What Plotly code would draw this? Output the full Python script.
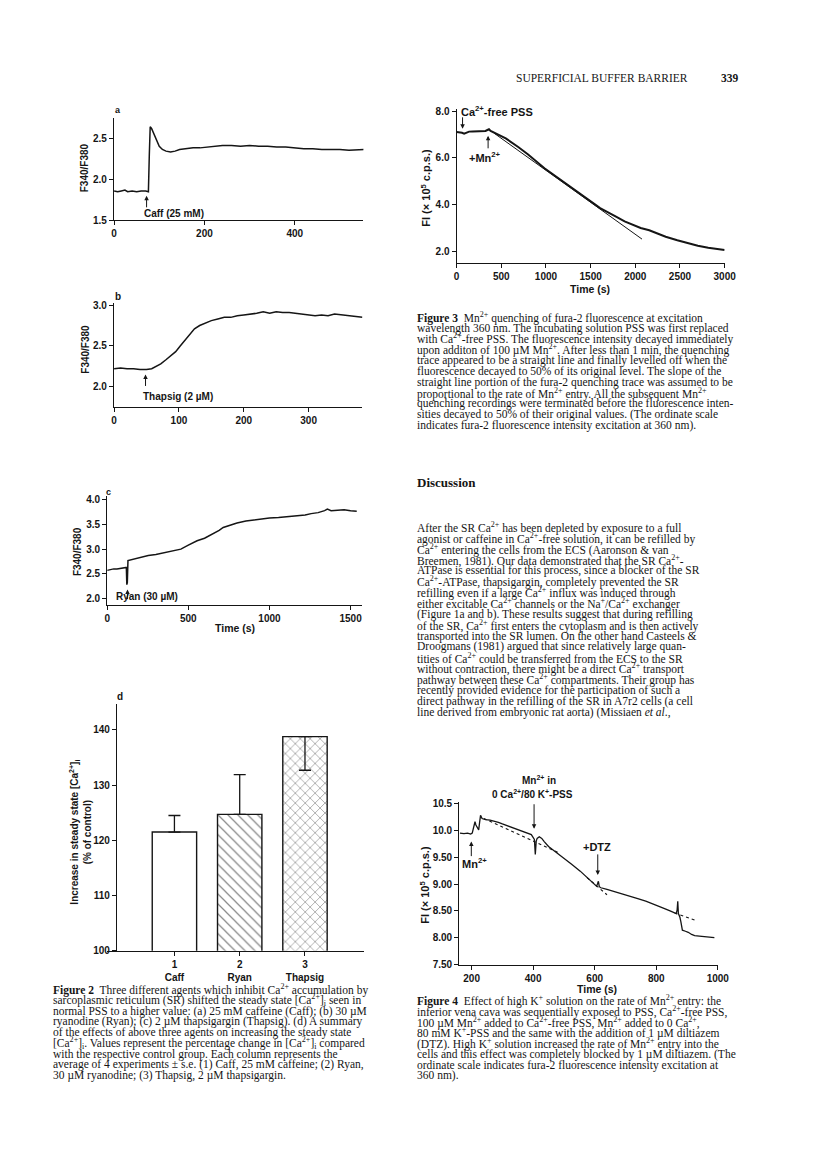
import plotly.graph_objects as go

PAGE_W, PAGE_H = 816, 1174
INK = "#151515"
SANS = "Liberation Sans"
SERIF = "Liberation Serif"

# ---------- Figure 2a: caffeine ----------
caff_time = [0, 8, 16, 24, 30, 40, 50, 60, 70, 76, 78, 80, 83, 88, 94, 100, 107, 115, 125,
             135, 145, 160, 175, 190, 205, 220, 240, 260, 280, 300, 320, 340, 360, 380,
             400, 420, 440, 460, 480, 500, 520, 540, 555]
caff_ratio = [1.86, 1.85, 1.86, 1.87, 1.85, 1.86, 1.85, 1.86, 1.86, 1.85, 2.30, 2.65, 2.63,
              2.56, 2.48, 2.41, 2.37, 2.35, 2.34, 2.35, 2.37, 2.38, 2.39, 2.39, 2.40, 2.41,
              2.42, 2.42, 2.41, 2.42, 2.41, 2.41, 2.40, 2.40, 2.39, 2.38, 2.38, 2.37, 2.37,
              2.37, 2.36, 2.37, 2.37]

# ---------- Figure 2b: thapsigargin ----------
thap_time = [0, 10, 20, 30, 40, 50, 58, 65, 72, 80, 88, 95, 102, 109, 116, 124, 132, 140,
             150, 160, 170, 180, 190, 200, 210, 220, 230, 240, 250, 260, 270, 280, 290,
             300, 310, 320, 330, 340, 350, 360, 370, 383]
thap_ratio = [2.22, 2.23, 2.22, 2.22, 2.21, 2.21, 2.22, 2.25, 2.28, 2.33, 2.38, 2.43, 2.50,
              2.57, 2.64, 2.71, 2.75, 2.78, 2.81, 2.83, 2.85, 2.85, 2.87, 2.88, 2.89, 2.90,
              2.92, 2.90, 2.92, 2.91, 2.91, 2.90, 2.89, 2.88, 2.87, 2.88, 2.87, 2.89, 2.88,
              2.87, 2.86, 2.85]

# ---------- Figure 2c: ryanodine ----------
ryan_time = [0, 20, 40, 60, 80, 100, 118, 121, 124, 128, 150, 180, 210, 253, 300, 350, 400,
             454, 500, 554, 600, 655, 690, 715, 760, 800, 855, 900, 950, 1000, 1056, 1100,
             1150, 1177, 1220, 1257, 1300, 1340, 1357, 1380, 1420, 1460, 1500, 1538]
ryan_ratio = [2.57, 2.59, 2.60, 2.60, 2.61, 2.62, 2.63, 2.28, 2.32, 2.77, 2.79, 2.81, 2.83,
              2.87, 2.89, 2.93, 2.96, 3.00, 3.08, 3.17, 3.22, 3.31, 3.38, 3.44, 3.49, 3.53,
              3.57, 3.59, 3.61, 3.63, 3.64, 3.65, 3.66, 3.67, 3.69, 3.72, 3.74, 3.78, 3.81,
              3.78, 3.79, 3.80, 3.78, 3.77]

# ---------- Figure 2d: summary bars ----------
agent_pos = [1, 2, 3]
agent_labels = ["Caff", "Ryan", "Thapsig"]
agent_increase = [121.5, 124.7, 138.8]
agent_se_up = [3.0, 7.2, 0.0]
agent_se_down = [0.0, 0.0, 6.1]

# ---------- Figure 3: Mn2+ quenching ----------
quench_time = [0, 30, 60, 84, 110, 139, 180, 230, 280, 323, 350, 362, 380, 420, 469, 550,
               689, 800, 983, 1100, 1240, 1350, 1459, 1540, 1606, 1700, 1789, 1880, 1973,
               2060, 2156, 2250, 2340, 2470, 2596, 2700, 2816, 2900, 3000]
quench_fi = [7.10, 7.10, 7.07, 7.03, 7.09, 7.12, 7.13, 7.14, 7.15, 7.15, 7.20, 7.22, 7.15,
             7.08, 7.00, 6.83, 6.46, 6.14, 5.55, 5.22, 4.83, 4.53, 4.23, 4.02, 3.84, 3.63,
             3.46, 3.27, 3.11, 2.99, 2.89, 2.74, 2.61, 2.46, 2.33, 2.23, 2.14, 2.08, 2.04]
slope_time = [420, 2075]
slope_fi = [7.05, 2.51]

# ---------- Figure 4: high K+ ----------
k_time = [162, 175, 187, 197, 202, 207, 211, 214, 218, 223, 226, 229, 234, 245, 260, 275,
          287, 300, 320, 340, 360, 380, 394, 404, 407, 410, 413, 420, 428, 436, 450, 468,
          485, 500, 525, 553, 580, 600, 606, 609, 612, 615, 620, 640, 659, 690, 713, 740,
          766, 795, 819, 845, 865, 868, 870, 872, 877, 880, 885, 895, 904, 915, 925, 940,
          957, 970, 989]
k_fi = [9.95, 9.94, 9.95, 9.93, 9.95, 10.05, 10.16, 10.10, 10.06, 10.01, 10.15, 10.28,
        10.22, 10.20, 10.19, 10.17, 10.15, 10.12, 10.08, 10.04, 10.00, 9.95, 9.92, 9.83,
        9.55, 9.80, 9.85, 9.88, 9.85, 9.79, 9.70, 9.62, 9.55, 9.48, 9.37, 9.24, 9.10, 8.99,
        8.96, 9.00, 9.05, 8.95, 8.93, 8.90, 8.87, 8.82, 8.78, 8.73, 8.68, 8.62, 8.56, 8.50,
        8.45, 8.52, 8.68, 8.45, 8.38, 8.30, 8.14, 8.12, 8.10, 8.06, 8.04, 8.03, 8.02, 8.01,
        8.00]
k_fit_time = [[240, 485], [575, 640], [860, 925]]
k_fit_fi = [[10.22, 9.58], [9.12, 8.80], [8.46, 8.33]]

# ---------- page text ----------
header = "SUPERFICIAL BUFFER BARRIER"
page_no = "339"

fig2_caption = [
    "<b>Figure 2</b>  Three different agents which inhibit Ca<sup>2+</sup> accumulation by",
    "sarcoplasmic reticulum (SR) shifted the steady state [Ca<sup>2+</sup>]<sub>i</sub> seen in",
    "normal PSS to a higher value: (a) 25 mM caffeine (Caff); (b) 30 µM",
    "ryanodine (Ryan); (c) 2 µM thapsigargin (Thapsig). (d) A summary",
    "of the effects of above three agents on increasing the steady state",
    "[Ca<sup>2+</sup>]<sub>i</sub>. Values represent the percentage change in [Ca<sup>2+</sup>]<sub>i</sub> compared",
    "with the respective control group. Each column represents the",
    "average of 4 experiments ± s.e. (1) Caff, 25 mM caffeine; (2) Ryan,",
    "30 µM ryanodine; (3) Thapsig, 2 µM thapsigargin.",
]
fig3_caption = [
    "<b>Figure 3</b>  Mn<sup>2+</sup> quenching of fura-2 fluorescence at excitation",
    "wavelength 360 nm. The incubating solution PSS was first replaced",
    "with Ca<sup>2+</sup>-free PSS. The fluorescence intensity decayed immediately",
    "upon additon of 100 µM Mn<sup>2+</sup>. After less than 1 min, the quenching",
    "trace appeared to be a straight line and finally levelled off when the",
    "fluorescence decayed to 50% of its original level. The slope of the",
    "straight line portion of the fura-2 quenching trace was assumed to be",
    "proportional to the rate of Mn<sup>2+</sup> entry. All the subsequent Mn<sup>2+</sup>",
    "quenching recordings were terminated before the fluorescence inten-",
    "sities decayed to 50% of their original values. (The ordinate scale",
    "indicates fura-2 fluorescence intensity excitation at 360 nm).",
]
discussion = [
    "After the SR Ca<sup>2+</sup> has been depleted by exposure to a full",
    "agonist or caffeine in Ca<sup>2+</sup>-free solution, it can be refilled by",
    "Ca<sup>2+</sup> entering the cells from the ECS (Aaronson & van",
    "Breemen, 1981). Our data demonstrated that the SR Ca<sup>2+</sup>-",
    "ATPase is essential for this process, since a blocker of the SR",
    "Ca<sup>2+</sup>-ATPase, thapsigargin, completely prevented the SR",
    "refilling even if a large Ca<sup>2+</sup> influx was induced through",
    "either excitable Ca<sup>2+</sup> channels or the Na<sup>+</sup>/Ca<sup>2+</sup> exchanger",
    "(Figure 1a and b). These results suggest that during refilling",
    "of the SR, Ca<sup>2+</sup> first enters the cytoplasm and is then actively",
    "transported into the SR lumen. On the other hand Casteels &",
    "Droogmans (1981) argued that since relatively large quan-",
    "tities of Ca<sup>2+</sup> could be transferred from the ECS to the SR",
    "without contraction, there might be a direct Ca<sup>2+</sup> transport",
    "pathway between these Ca<sup>2+</sup> compartments. Their group has",
    "recently provided evidence for the participation of such a",
    "direct pathway in the refilling of the SR in A7r2 cells (a cell",
    "line derived from embryonic rat aorta) (Missiaen <i>et al</i>.,",
]
fig4_caption = [
    "<b>Figure 4</b>  Effect of high K<sup>+</sup> solution on the rate of Mn<sup>2+</sup> entry: the",
    "inferior vena cava was sequentially exposed to PSS, Ca<sup>2+</sup>-free PSS,",
    "100 µM Mn<sup>2+</sup> added to Ca<sup>2+</sup>-free PSS, Mn<sup>2+</sup> added to 0 Ca<sup>2+</sup>,",
    "80 mM K<sup>+</sup>-PSS and the same with the addition of 1 µM diltiazem",
    "(DTZ). High K<sup>+</sup> solution increased the rate of Mn<sup>2+</sup> entry into the",
    "cells and this effect was completely blocked by 1 µM diltiazem. (The",
    "ordinate scale indicates fura-2 fluorescence intensity excitation at",
    "360 nm).",
]


def px(x):
    return x / PAGE_W


def py(y):
    return 1 - y / PAGE_H


def axis(left_or_top, right_or_bottom, rng, tickvals, ticktext=None, horizontal=True, **extra):
    if horizontal:
        domain = [px(left_or_top), px(right_or_bottom)]
    else:
        domain = [py(right_or_bottom), py(left_or_top)]
    d = dict(
        domain=domain, range=rng, tickvals=tickvals, showline=True, linecolor=INK,
        linewidth=1.3, ticks="outside", ticklen=4, tickwidth=1.2, tickcolor=INK,
        showgrid=False, zeroline=False, fixedrange=True,
        tickfont=dict(family=SANS, size=10, color=INK, weight="bold"),
    )
    if ticktext is not None:
        d["ticktext"] = ticktext
    d.update(extra)
    return d


def label(x, y, s, size=10, family=SANS, anchor="left", angle=0, weight="bold"):
    return dict(
        xref="paper", yref="paper", x=px(x), y=py(y), text=s, showarrow=False,
        xanchor=anchor, yanchor="middle", textangle=angle, borderpad=0,
        font=dict(family=family, size=size, color=INK, weight=weight),
    )


def arrow(axes, x, y, ay):
    return dict(
        xref="x" + axes, yref="y" + axes, x=x, y=y, ax=0, ay=ay, text="",
        showarrow=True, arrowhead=2, arrowsize=0.9, arrowwidth=1, arrowcolor=INK,
    )


def paragraph(x, y0, dy, lines, size=11.5):
    return [label(x, y0 + i * dy, s, size=size, family=SERIF, weight="normal")
            for i, s in enumerate(lines)]


def trace(t, v, axes, width=1.5, dash=None):
    return go.Scatter(
        x=t, y=v, mode="lines", xaxis="x" + axes, yaxis="y" + axes,
        line=dict(color=INK, width=width, dash=dash), hoverinfo="skip",
    )


fig = go.Figure()
fig.add_trace(trace(caff_time, caff_ratio, ""))
fig.add_trace(trace(thap_time, thap_ratio, "2"))
fig.add_trace(trace(ryan_time, ryan_ratio, "3"))

fig.add_trace(go.Bar(
    x=agent_pos, y=agent_increase, base=0, width=0.68, xaxis="x4", yaxis="y4",
    marker=dict(
        color="white", line=dict(color=INK, width=1.4),
        pattern=dict(shape=["", "\\", "x"], size=7, solidity=0.18, fgcolor=INK,
                     bgcolor="white"),
    ),
    error_y=dict(type="data", symmetric=False, array=agent_se_up,
                 arrayminus=agent_se_down, color=INK, thickness=1.3, width=6),
    hoverinfo="skip",
))

fig.add_trace(trace(quench_time, quench_fi, "5", width=2))
fig.add_trace(trace(slope_time, slope_fi, "5", width=1))

fig.add_trace(trace(k_time, k_fi, "6", width=1.3))
for ft, fv in zip(k_fit_time, k_fit_fi):
    fig.add_trace(trace(ft, fv, "6", width=1.1, dash="dot"))

layout = dict(
    width=PAGE_W, height=PAGE_H, margin=dict(l=0, r=0, t=0, b=0),
    paper_bgcolor="white", plot_bgcolor="white", showlegend=False,
    # panel a
    xaxis=axis(105, 359, [0, 552], [0, 200, 400], anchor="y"),
    yaxis=axis(106.7, 210, [1.5, 2.76], [1.5, 2.0, 2.5], ["1.5", "2.0", "2.5"],
               horizontal=False, anchor="x"),
    # panel b
    xaxis2=axis(105, 358, [0, 383], [0, 100, 200, 300], anchor="y2"),
    yaxis2=axis(294, 398, [1.756, 3.02], [2.0, 2.5, 3.0], ["2.0", "2.5", "3.0"],
                horizontal=False, anchor="x2"),
    # panel c
    xaxis3=axis(98, 358, [0, 1573], [0, 500, 1000, 1500], anchor="y3"),
    yaxis3=axis(488, 598, [1.87, 4.08], [2.0, 2.5, 3.0, 3.5, 4.0],
                ["2.0", "2.5", "3.0", "3.5", "4.0"], horizontal=False, anchor="x3"),
    # panel d
    xaxis4=axis(98, 360, [-0.03, 3.91], agent_pos,
                [f"{i}<br>{n}" for i, n in zip(agent_pos, agent_labels)],
                anchor="y4"),
    yaxis4=axis(698, 946.7, [100, 144.7], [100, 110, 120, 130, 140], horizontal=False,
                anchor="free", position=px(107)),
    # figure 3
    xaxis5=axis(454, 727, [0, 3000], [0, 500, 1000, 1500, 2000, 2500, 3000], anchor="y5"),
    yaxis5=axis(98.3, 253.3, [1.48, 8.07], [2, 4, 6, 8], ["2.0", "4.0", "6.0", "8.0"],
                horizontal=False, anchor="x5"),
    # figure 4
    xaxis6=axis(456.7, 720, [160, 1000], [200, 400, 600, 800, 1000], anchor="y6"),
    yaxis6=axis(796.7, 960.7, [7.5, 10.53], [7.5, 8.0, 8.5, 9.0, 9.5, 10.0, 10.5],
                ["7.50", "8.00", "8.50", "9.00", "9.50", "10.0", "10.5"],
                horizontal=False, anchor="x6"),
)
fig.update_layout(**layout)

ylab_fi = "FI (× 10<sup>5</sup> c.p.s.)"
notes = [
    # header
    label(513, 67, header, size=11.5, family=SERIF, weight="normal"),
    label(722, 67, page_no, size=11.5, family=SERIF),
    # panel a
    label(105, 99, "a", size=9),
    label(75, 157, "F340/F380", anchor="center", angle=-90),
    label(134, 203, "Caff (25 mM)"),
    arrow("", 72, 1.80, 13),
    # panel b
    label(105, 287, "b", size=10),
    label(75, 340, "F340/F380", anchor="center", angle=-90),
    label(133, 388, "Thapsig (2 µM)"),
    arrow("2", 48.5, 2.15, 13),
    # panel c
    label(96, 484, "c", size=9),
    label(68, 544, "F340/F380", anchor="center", angle=-90),
    label(106, 590, "Ryan (30 µM)"),
    arrow("3", 125, 2.18, 11),
    label(228, 621, "Time (s)", anchor="center", size=10.5),
    # panel d
    label(107, 690, "d", size=10),
    label(71, 827, "Increase in steady state [Ca<sup>2+</sup>]<sub>i</sub><br>(% of control)",
          anchor="center", angle=-90),
    # figure 3
    label(423, 177, ylab_fi, anchor="center", angle=-90, size=11),
    label(457, 100, "Ca<sup>2+</sup>-free PSS", size=11),
    arrow("5", 66, 7.24, -13),
    label(483, 146, "+Mn<sup>2+</sup>", anchor="center", size=11),
    arrow("5", 352, 6.94, 14),
    label(590, 279, "Time (s)", anchor="center", size=10.5),
    # figure 4
    label(421, 880, ylab_fi, anchor="center", angle=-90, size=11),
    label(538, 775, "Mn<sup>2+</sup> in", anchor="center"),
    label(531, 789, "0 Ca<sup>2+</sup>/80 K<sup>+</sup>-PSS", anchor="center"),
    arrow("6", 403, 10.03, -26),
    label(597, 842, "+DTZ", anchor="center", size=11),
    arrow("6", 610, 9.17, -22),
    label(472, 858, "Mn<sup>2+</sup>", anchor="center", size=11),
    arrow("6", 199, 9.79, 16),
    label(597, 985, "Time (s)", anchor="center", size=10.5),
    # body text
    label(413, 475, "<b>Discussion</b>", size=13, family=SERIF),
]
notes += paragraph(42, 986, 10.85, fig2_caption)
notes += paragraph(413, 308, 10.9, fig3_caption)
notes += paragraph(413, 520, 10.95, discussion)
notes += paragraph(413, 997, 10.85, fig4_caption)
fig.update_layout(annotations=notes)

fig.write_html("out.html")
